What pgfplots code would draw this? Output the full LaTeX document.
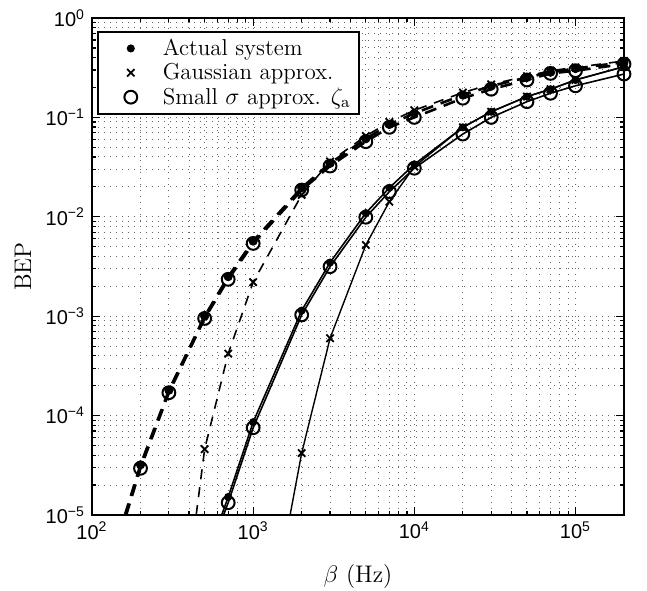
\documentclass[border=0pt]{standalone}
\usepackage{fontspec}
\usepackage{pgfplots}
\pgfplotsset{compat=1.18}
\newfontfamily\ticksans{Liberation Sans}
\newcommand\tenpow[1]{\pgfmathtruncatemacro{\e}{round((#1)/ln(10))}10\textsuperscript{\ifnum\e<0 {\char"2212}\number\numexpr-\e\relax\else\e\fi}}
\begin{document}
\begin{tikzpicture}
\path[use as bounding box] (-46pt,-37.5pt) rectangle (277.5pt,257.5pt);
\begin{axis}[
  at={(0,0)}, anchor=south west,
  scale only axis, width=266pt, height=248.5pt,
  xmode=log, ymode=log,
  xmin=100, xmax=2e5, ymin=1e-5, ymax=1,
  grid=both,
  major grid style={dash pattern=on 0.6pt off 2.4pt, black!60, line width=0.5pt},
  minor grid style={dash pattern=on 0.6pt off 2.4pt, black!60, line width=0.5pt},
  axis line style={line width=0.9pt},
  tick style={black, line width=0.6pt},
  major tick length=4pt, minor tick length=2pt,
  xticklabel={\tenpow{\tick}},
  yticklabel={\tenpow{\tick}},
  tick label style={font=\ticksans\fontsize{10}{12}\selectfont},
  xlabel={$\beta$ (Hz)}, ylabel={BEP},
  label style={font=\fontsize{12}{14}\selectfont},
  xlabel style={at={(axis description cs:0.5,-0.123)}, anchor=center},
  ylabel style={at={(axis description cs:-0.13,0.5)}, anchor=center},
  clip mode=individual,
  legend style={at={(axis description cs:0.0094,0.974)}, anchor=north west,
    draw=black, line width=0.8pt, fill=white,
    font=\fontsize{11.5}{14}\selectfont, inner xsep=2pt, inner ysep=1.5pt, row sep=-1.5pt},
  legend cell align=left,
  legend image code/.code={\draw[mark repeat=2,mark phase=2,#1,draw=none] plot coordinates {(0pt,0pt) (14.5pt,0pt) (28.5pt,0pt)};},
  every axis plot/.append style={black},
]
% ---- dashed group ----
% Actual system (dashed)
\addplot[forget plot, line width=1.3pt, dash pattern=on 6pt off 4pt, mark=*, mark size=1.6pt, mark repeat=1, mark phase=2, mark options={solid}] coordinates {
(160,1e-5) (200,3.2e-5) (300,1.8e-4) (500,1.0e-3) (700,2.5e-3) (1000,5.7e-3) (2000,0.0196) (3000,0.0345) (5000,0.061) (7000,0.085) (10000,0.11) (20000,0.168) (30000,0.207) (50000,0.252) (70000,0.285) (100000,0.31) (200000,0.36)};
% Small sigma (dashed)
\addplot[forget plot, line width=1.3pt, dash pattern=on 6pt off 4pt, mark=o, mark size=3.2pt, mark repeat=1, mark phase=2, mark options={solid, line width=1pt}] coordinates {
(163,1e-5) (200,2.95e-5) (300,1.7e-4) (500,9.5e-4) (700,2.35e-3) (1000,5.4e-3) (2000,0.0186) (3000,0.0324) (5000,0.057) (7000,0.0795) (10000,0.1) (20000,0.156) (30000,0.192) (50000,0.238) (70000,0.277) (100000,0.295) (200000,0.344)};
% Gaussian (dashed)
\addplot[forget plot, line width=0.8pt, dash pattern=on 5pt off 4pt, mark=x, mark size=2.6pt, mark repeat=1, mark phase=2, mark options={solid, line width=0.9pt}] coordinates {
(443,1e-5) (500,4.6e-5) (700,4.2e-4) (1000,2.2e-3) (2000,0.0166) (3000,0.036) (5000,0.065) (7000,0.09) (10000,0.118) (20000,0.178) (30000,0.215) (50000,0.26) (70000,0.295) (100000,0.318) (200000,0.37)};
% ---- solid group ----
% Actual system (solid)
\addplot[forget plot, line width=0.8pt, mark=*, mark size=1.6pt, mark repeat=1, mark phase=2] coordinates {
(638,1e-5) (700,1.52e-5) (1000,8.6e-5) (2000,1.14e-3) (3000,3.47e-3) (5000,0.0109) (7000,0.0196) (10000,0.0337) (20000,0.0795) (30000,0.114) (50000,0.162) (70000,0.192) (100000,0.238) (200000,0.324)};
% Small sigma (solid)
\addplot[forget plot, line width=0.8pt, mark=o, mark size=3.2pt, mark repeat=1, mark phase=2, mark options={line width=1pt}] coordinates {
(655,1e-5) (700,1.33e-5) (1000,7.55e-5) (2000,1.03e-3) (3000,3.15e-3) (5000,9.9e-3) (7000,0.0179) (10000,0.0308) (20000,0.068) (30000,0.1) (50000,0.144) (70000,0.175) (100000,0.208) (200000,0.273)};
% Gaussian (solid)
\addplot[forget plot, line width=0.7pt, mark=x, mark size=2.6pt, mark repeat=1, mark phase=2, mark options={line width=0.9pt}] coordinates {
(1695,1e-5) (2000,4.2e-5) (3000,6.0e-4) (5000,5.2e-3) (7000,0.0142) (10000,0.032) (20000,0.0795) (30000,0.114) (50000,0.162) (70000,0.192) (100000,0.238) (200000,0.324)};
% legend
\addlegendimage{mark=*, mark size=1.6pt, mark options={draw=black, fill=black}}
\addlegendentry{Actual system}
\addlegendimage{mark=x, mark size=2.6pt, mark options={draw=black, line width=0.9pt}}
\addlegendentry{Gaussian approx.}
\addlegendimage{mark=o, mark size=3.2pt, mark options={draw=black, line width=1pt}}
\addlegendentry{Small $\sigma$ approx. $\zeta_{\mathrm{a}}$}
\end{axis}
\end{tikzpicture}
\end{document}
